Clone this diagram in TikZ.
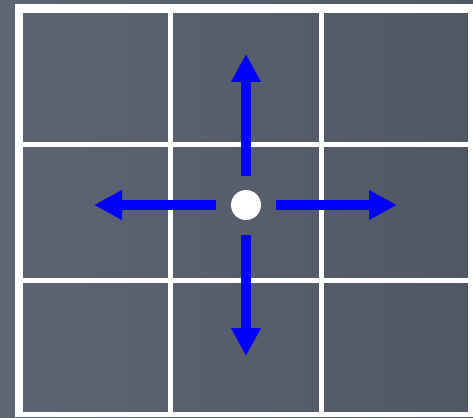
\documentclass[tikz,border=0pt]{standalone}
\usetikzlibrary{arrows.meta}
\definecolor{bgleft}{RGB}{93,100,114}
\definecolor{bgright}{RGB}{81,87,101}
\definecolor{arrowblue}{RGB}{0,0,255}
\tikzset{
  gridline/.style={fill=white,draw=none},
  movearrow/.style={draw=arrowblue,line width=10pt,-{Triangle[length=28pt,width=28pt]}},
  dot/.style={circle,fill=white,draw=none,minimum size=30pt,inner sep=0pt}
}
\begin{document}
\begin{tikzpicture}[x=1pt,y=-1pt]
\useasboundingbox (0,0) rectangle (473,417);
\shade[left color=bgleft,right color=bgright] (0,0) rectangle (473,417);
% grid lines
\fill[gridline] (15,4) rectangle (23,417);
\fill[gridline] (15,4) rectangle (473,13);
\fill[gridline] (468,4) rectangle (473,417);
\fill[gridline] (15,412) rectangle (473,417);
\fill[gridline] (168,4) rectangle (173,417);
\fill[gridline] (319,4) rectangle (324,417);
\fill[gridline] (15,142) rectangle (473,147);
\fill[gridline] (15,278) rectangle (473,283);
% centre
\node[dot] (c) at (246,205) {};
\coordinate (us) at (246,176);
\coordinate (ue) at (246,54);
\coordinate (ds) at (246,235);
\coordinate (de) at (246,356);
\coordinate (ls) at (216,205);
\coordinate (le) at (94,205);
\coordinate (rs) at (276,205);
\coordinate (re) at (397,205);
\draw[movearrow] (us) -- (ue);
\draw[movearrow] (ds) -- (de);
\draw[movearrow] (ls) -- (le);
\draw[movearrow] (rs) -- (re);
\end{tikzpicture}
\end{document}
